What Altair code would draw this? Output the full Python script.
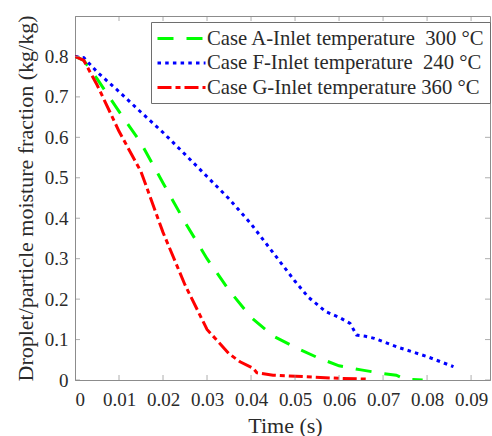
import altair as alt
import pandas as pd

# Moisture-fraction histories for the three inlet temperatures
case_names = [
    "Case A-Inlet temperature\u00a0 300 °C",
    "Case F-Inlet temperature\u00a0 240 °C",
    "Case G-Inlet temperature 360 °C",
]
case_colors = ["#00ff00", "#0000ff", "#ff0000"]
case_dashes = [[16, 13], [3.5, 4.2], [14, 4, 5, 4]]

time_a = [0, 0.002, 0.005, 0.01, 0.015, 0.02, 0.025, 0.03, 0.035, 0.04, 0.045,
          0.05, 0.055, 0.06, 0.065, 0.07, 0.073, 0.075, 0.079]
moist_a = [0.8, 0.79, 0.745, 0.664, 0.586, 0.487, 0.39, 0.30, 0.222, 0.155, 0.109,
           0.081, 0.056, 0.035, 0.025, 0.016, 0.012, 0.002, 0.0]

time_f = [0, 0.002, 0.005, 0.01, 0.015, 0.02, 0.025, 0.03, 0.035, 0.04, 0.045,
          0.05, 0.053, 0.057, 0.06, 0.0625, 0.064, 0.066, 0.068, 0.0731, 0.08, 0.086]
moist_f = [0.8, 0.797, 0.762, 0.713, 0.662, 0.612, 0.558, 0.503, 0.448, 0.386, 0.315,
           0.244, 0.205, 0.169, 0.155, 0.14, 0.111, 0.108, 0.103, 0.082, 0.058, 0.033]

time_g = [0, 0.002, 0.005, 0.01, 0.015, 0.02, 0.025, 0.03, 0.035, 0.0375, 0.0405,
          0.0413, 0.045, 0.0527, 0.0602, 0.0667]
moist_g = [0.8, 0.79, 0.73, 0.615, 0.515, 0.365, 0.235, 0.125, 0.065, 0.045, 0.029,
           0.018, 0.012, 0.008, 0.004, 0.002]

x_ticks = [0, 0.01, 0.02, 0.03, 0.04, 0.05, 0.06, 0.07, 0.08, 0.09]
y_ticks = [0, 0.1, 0.2, 0.3, 0.4, 0.5, 0.6, 0.7, 0.8]
x_range = [0, 0.0943]
y_range = [0, 0.9]

rows = []
for name, ts, ms in zip(case_names, [time_a, time_f, time_g], [moist_a, moist_f, moist_g]):
    for i, (t, m) in enumerate(zip(ts, ms)):
        rows.append({"case": name, "t": t, "m": m, "i": i})
df = pd.DataFrame(rows)
xt_df = pd.DataFrame({"t": x_ticks})
yt_df = pd.DataFrame({"m": y_ticks})

FONT = "Liberation Serif"
AXIS_GRAY = "#8c8c8c"
TEXT = "#2a2a2a"

x_scale = alt.Scale(domain=x_range, nice=False, zero=False)
y_scale = alt.Scale(domain=y_range, nice=False)

text_style = dict(labelFont=FONT, labelFontSize=19, labelColor=TEXT, labelFontWeight="normal",
                  titleFont=FONT, titleFontSize=22, titleFontWeight="normal", titleColor=TEXT,
                  titleBaseline="alphabetic", titleLimit=600, grid=False,
                  domainColor=AXIS_GRAY, ticks=False, tickSize=0)

lines = alt.Chart(df).mark_line(strokeWidth=3, strokeCap="butt", clip=True).encode(
    x=alt.X("t:Q", scale=x_scale, axis=alt.Axis(
        orient="bottom", values=x_ticks, format="~g", labelPadding=10,
        title="Time (s)", titleX=210, titleY=52, **text_style)),
    y=alt.Y("m:Q", scale=y_scale, axis=alt.Axis(
        orient="left", values=y_ticks, format="~g", labelPadding=7,
        title="Droplet/particle moisture fraction (kg/kg)",
        titleX=-43, titleY=182, **text_style)),
    order="i:Q",
    color=alt.Color("case:N", scale=alt.Scale(domain=case_names, range=case_colors),
                    sort=case_names, title=None),
    strokeDash=alt.StrokeDash("case:N", scale=alt.Scale(domain=case_names, range=case_dashes),
                              sort=case_names, title=None),
)

# Inward-pointing box ticks: a tick straddling each frame edge, clipped to the plot
tick_style = dict(color=AXIS_GRAY, size=10, thickness=1, clip=True)
ticks_bottom = alt.Chart(xt_df).mark_tick(orient="vertical", **tick_style).encode(
    x=alt.X("t:Q", scale=x_scale), y=alt.datum(y_range[0], scale=y_scale))
ticks_top = alt.Chart(xt_df).mark_tick(orient="vertical", **tick_style).encode(
    x=alt.X("t:Q", scale=x_scale), y=alt.datum(y_range[1], scale=y_scale))
ticks_left = alt.Chart(yt_df).mark_tick(orient="horizontal", **tick_style).encode(
    y=alt.Y("m:Q", scale=y_scale), x=alt.datum(x_range[0], scale=x_scale))
ticks_right = alt.Chart(yt_df).mark_tick(orient="horizontal", **tick_style).encode(
    y=alt.Y("m:Q", scale=y_scale), x=alt.datum(x_range[1], scale=x_scale))

chart = alt.layer(lines, ticks_bottom, ticks_top, ticks_left, ticks_right).properties(
    width=415, height=364,
    autosize=alt.AutoSizeParams(type="none"),
    padding={"left": 75, "top": 16, "right": 2, "bottom": 56},
    background="white",
).configure(
    font=FONT
).configure_view(
    stroke=AXIS_GRAY, strokeWidth=1
).configure_legend(
    orient="none", legendX=76, legendY=6,
    labelFont=FONT, labelFontSize=20.7, labelColor=TEXT, labelOffset=14,
    symbolType="M-2.4,0H2.4", symbolSize=400, symbolStrokeWidth=3, symbolOffset=14,
    padding=5, rowPadding=2.5, strokeColor="#6e6e6e", fillColor="white",
    labelLimit=400,
)

chart.save("out.html", embed_options={"renderer": "svg", "actions": False})
